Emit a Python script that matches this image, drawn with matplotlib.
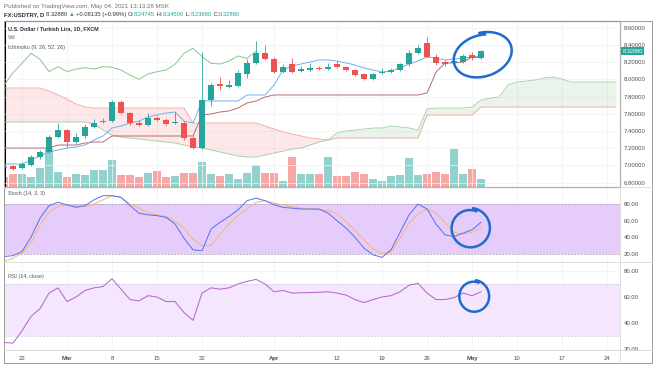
import matplotlib
matplotlib.use('Agg')
import matplotlib.pyplot as plt
import matplotlib.transforms as mtransforms
import numpy as np
import pandas as pd

plt.rcParams['font.family'] = ['Liberation Sans', 'DejaVu Sans']

W, H = 654, 366

# daily bars Feb 18 .. May 4 2021 (54 bars), calendar runs on into late May
dates = pd.bdate_range('2021-02-18', '2021-05-28')

opens = [6.982, 6.993, 6.970, 7.005, 7.098, 7.156, 7.330, 7.412, 7.272, 7.342,
         7.447, 7.505, 7.516, 7.737, 7.609, 7.493, 7.470, 7.551, 7.528, 7.493,
         7.493, 7.319, 7.202, 7.760, 7.943, 7.915, 7.927, 8.059, 8.194, 8.303,
         8.234, 8.090, 8.176, 8.101, 8.109, 8.136, 8.121, 8.176, 8.141, 8.109,
         8.059, 8.001, 8.071, 8.082, 8.109, 8.176, 8.303, 8.420, 8.264, 8.199,
         8.187, 8.206, 8.284, 8.24745]
highs = [6.995, 7.005, 7.040, 7.121, 7.180, 7.353, 7.493, 7.424, 7.377, 7.481,
         7.540, 7.551, 7.760, 7.760, 7.621, 7.528, 7.609, 7.575, 7.551, 7.621,
         7.516, 7.342, 8.319, 7.960, 8.028, 7.990, 8.109, 8.240, 8.450, 8.400,
         8.260, 8.180, 8.250, 8.150, 8.190, 8.160, 8.190, 8.215, 8.160, 8.125,
         8.075, 8.080, 8.130, 8.130, 8.190, 8.340, 8.400, 8.497, 8.290, 8.230,
         8.245, 8.300, 8.319, 8.34500]
lows = [6.962, 6.950, 6.958, 6.993, 7.080, 7.144, 7.319, 7.214, 7.260, 7.319,
        7.435, 7.493, 7.505, 7.598, 7.470, 7.458, 7.458, 7.516, 7.470, 7.481,
        7.295, 7.190, 7.190, 7.690, 7.877, 7.905, 7.915, 8.016, 8.180, 8.220,
        8.070, 8.070, 8.070, 8.090, 8.100, 8.105, 8.110, 8.130, 8.095, 8.035,
        7.990, 7.995, 8.060, 8.070, 8.100, 8.160, 8.290, 8.255, 8.170, 8.160,
        8.180, 8.190, 8.220, 8.23880]
closes = [6.972, 6.958, 7.016, 7.098, 7.156, 7.330, 7.412, 7.272, 7.330, 7.447,
          7.493, 7.516, 7.737, 7.609, 7.493, 7.470, 7.551, 7.528, 7.481, 7.505,
          7.319, 7.202, 7.760, 7.935, 7.920, 7.930, 8.078, 8.187, 8.303, 8.234,
          8.090, 8.148, 8.090, 8.120, 8.136, 8.121, 8.148, 8.141, 8.109, 8.051,
          8.001, 8.063, 8.090, 8.109, 8.176, 8.303, 8.362, 8.264, 8.187, 8.179,
          8.214, 8.272, 8.245, 8.32880]
volume = [10, 13, 13, 10, 19, 39, 15, 10, 13, 12,
          17, 17, 27, 12, 12, 10, 14, 16, 10, 11,
          14, 14, 25, 13, 11, 13, 8, 14, 22, 14,
          14, 6, 30, 13, 13, 13, 30, 11, 11, 15,
          13, 8, 6, 11, 12, 29, 12, 13, 15, 13,
          38, 13, 18, 8]

# ichimoku (9, 26, 52, 26)
tenkan = [7.016, 7.016, 7.016, 7.063, 7.109, 7.156, 7.179, 7.202, 7.214, 7.237,
          7.295, 7.342, 7.435, 7.458, 7.493, 7.516, 7.563, 7.586, 7.609, 7.621,
          7.516, 7.493, 7.749, 7.749, 7.749, 7.749, 7.749, 7.819, 7.819, 7.819,
          7.935, 8.109, 8.156, 8.179, 8.202, 8.226, 8.226, 8.214, 8.191, 8.167,
          8.133, 8.109, 8.086, 8.098, 8.133, 8.179, 8.214, 8.260, 8.249, 8.226,
          8.237, 8.249, 8.260, 8.272]
kijun = [7.202, 7.202, 7.202, 7.202, 7.202, 7.202, 7.237, 7.237, 7.237, 7.260,
         7.272, 7.272, 7.342, 7.342, 7.342, 7.342, 7.342, 7.342, 7.342, 7.342,
         7.342, 7.342, 7.586, 7.598, 7.621, 7.633, 7.667, 7.726, 7.749, 7.795,
         7.819, 7.819, 7.819, 7.819, 7.819, 7.819, 7.819, 7.819, 7.819, 7.819,
         7.819, 7.819, 7.819, 7.819, 7.819, 7.819, 7.819, 7.842, 8.086, 8.191,
         8.191, 8.202, 8.260, 8.249]
span_a = [7.505, 7.505, 7.505, 7.505, 7.505, 7.505, 7.505, 7.505, 7.505, 7.505,
          7.481, 7.412, 7.353, 7.330, 7.319, 7.307, 7.295, 7.284, 7.272, 7.260,
          7.237, 7.214, 7.202, 7.179, 7.156, 7.133, 7.109, 7.098, 7.098, 7.121,
          7.144, 7.167, 7.191, 7.202, 7.237, 7.272, 7.295, 7.377, 7.400, 7.412,
          7.423, 7.435, 7.435, 7.458, 7.447, 7.435, 7.412, 7.656, 7.667, 7.667,
          7.667, 7.667, 7.679, 7.760, 7.783, 7.795, 7.935, 7.970, 7.981, 7.993,
          8.016, 8.028, 8.005, 7.970, 7.970, 7.970, 7.970, 7.970, 7.970]
span_b = [7.900, 7.900, 7.900, 7.900, 7.900, 7.865, 7.819, 7.772, 7.714, 7.679,
          7.667, 7.667, 7.667, 7.667, 7.667, 7.667, 7.667, 7.667, 7.667, 7.667,
          7.667, 7.493, 7.493, 7.493, 7.493, 7.493, 7.493, 7.493, 7.493, 7.458,
          7.423, 7.388, 7.365, 7.342, 7.319, 7.307, 7.295, 7.319, 7.319, 7.319,
          7.319, 7.319, 7.319, 7.319, 7.319, 7.319, 7.319, 7.586, 7.586, 7.586,
          7.586, 7.586, 7.586, 7.679, 7.679, 7.679, 7.679, 7.679, 7.679, 7.679,
          7.679, 7.679, 7.679, 7.679, 7.679, 7.679, 7.679, 7.679, 7.679]

stoch_k = [17, 18, 23, 40, 63, 78, 82, 79, 76, 78,
           85, 90, 90, 88, 78, 69, 67, 66, 64, 56,
           39, 25, 24, 50, 58, 65, 73, 84, 87, 84,
           79, 76, 75, 74, 74, 74, 69, 60, 51, 40,
           27, 19, 16, 25, 46, 67, 80, 74, 56, 43,
           41, 45, 49, 58]
stoch_d = [11, 15, 21, 33, 55, 70, 77, 79, 78, 77,
           80, 85, 90, 88, 80, 75, 70, 67, 65, 59,
           51, 38, 30, 30, 44, 56, 66, 74, 82, 84,
           81, 79, 77, 75, 74, 73, 72, 68, 59, 48,
           37, 26, 21, 22, 39, 57, 68, 74, 69, 58,
           46, 44, 46, 51]
rsi = [25, 24.5, 34, 45, 51, 63, 67, 56.5, 60, 65,
       67, 68, 74, 66, 58, 57, 61, 60, 56.5, 56.5,
       48, 42, 63, 67, 66, 67, 70, 72, 73.5, 70,
       64, 65, 63, 63.2, 63.4, 63.6, 64, 63, 61.5, 58,
       55.7, 58, 60, 61, 64, 69, 70.5, 63, 58, 58,
       59.5, 63, 61, 64]

price_ticks = [6.8, 7.0, 7.2, 7.4, 7.6, 7.8, 8.0, 8.2, 8.4, 8.6]
osc_ticks = [20, 40, 60, 80]
tick_dates = ['2021-02-22', '2021-03-01', '2021-03-08', '2021-03-15', '2021-03-22',
              '2021-04-01', '2021-04-12', '2021-04-19', '2021-04-26', '2021-05-03',
              '2021-05-10', '2021-05-17', '2021-05-24']
tick_labels = ['22', 'Mar', '8', '15', '22', 'Apr', '12', '19', '26', 'May', '10', '17', '24']
months = ['Mar', 'Apr', 'May']

TEAL = '#26a69a'
RED = '#ef5350'
LABEL = '#4d4d4d'
DARK = '#2a2e39'
GRID = '#f1f2f5'
INK = '#1f6bd0'

fig = plt.figure(figsize=(W / 100, H / 100), dpi=100)


def pane(x0, y0, x1, y1):
    # pixel box (top-left origin) -> figure fraction
    return fig.add_axes([x0 / W, 1 - y1 / H, (x1 - x0) / W, (y1 - y0) / H])


ax = pane(5, 21, 620, 187)
axs = pane(5, 187, 620, 262)
axr = pane(5, 262, 620, 350)
axv = ax.twinx()
ax.set_zorder(axv.get_zorder() + 1)
ax.patch.set_visible(False)

pos = np.arange(len(closes))
o, hi, lo, c = map(np.array, (opens, highs, lows, closes))
up = c >= o

# volume
axv.bar(pos, volume, width=0.86, color=np.where(up, '#93d2cc', '#f6a8a6'), lw=0)
axv.set_ylim(0, max(volume) / 0.235)
axv.set_yticks([])

# cloud
sa, sb = np.array(span_a), np.array(span_b)
cx = np.arange(len(sa))
ax.fill_between(cx, sa, sb, where=sa >= sb, interpolate=True, color='#43a047', alpha=0.11, lw=0)
ax.fill_between(cx, sa, sb, where=sa < sb, interpolate=True, color='#ef5350', alpha=0.13, lw=0)
ax.plot(cx, sa, color='#9fd09f', lw=0.6)
ax.plot(cx, sb, color='#f3a3a3', lw=0.6)
ax.plot(pos, kijun, color='#b86a70', lw=0.7)
ax.plot(pos, tenkan, color='#6cb4f0', lw=0.7)
lag = len(closes) - 25
ax.plot(pos[:lag], c[25:], color='#8dc68d', lw=0.7)

# candles
col = np.where(up, TEAL, RED)
ax.vlines(pos, lo, hi, colors=col, lw=0.6, zorder=4)
ax.bar(pos, np.maximum(np.abs(c - o), 0.007), bottom=np.minimum(o, c), width=0.66,
       color=col, lw=0, zorder=5)

ax.set_ylim(6.749, 8.679)
ax.set_yticks(price_ticks)
ax.set_yticklabels(['%.5f' % v for v in price_ticks])

blend = mtransforms.blended_transform_factory(ax.transAxes, ax.transData)
ax.text(1.004, closes[-1], '%.5f' % closes[-1], transform=blend, fontsize=4.1,
        color='white', va='center', ha='left', zorder=20, clip_on=False,
        bbox=dict(boxstyle='square,pad=0.25', fc=TEAL, ec='none'))

ax.text(0.005, 0.952, 'U.S. Dollar / Turkish Lira, 1D, FXCM', transform=ax.transAxes,
        fontsize=3.9, color=DARK, fontweight='bold', va='center')
ax.text(0.005, 0.898, 'Vol', transform=ax.transAxes, fontsize=3.9, color='#555555', va='center')
ax.text(0.005, 0.843, 'Ichimoku (9, 26, 52, 26)', transform=ax.transAxes, fontsize=3.9,
        color='#555555', va='center')

# stochastic
axs.axhspan(20, 80, color='#e5ccfa', lw=0)
for lvl in (20, 80):
    axs.axhline(lvl, color='#9c97a6', lw=0.5, ls=(0, (2.5, 2)))
axs.plot(pos, stoch_d, color='#f4b767', lw=0.7)
axs.plot(pos, stoch_k, color='#5670ee', lw=0.7)
axs.set_ylim(10.4, 100.4)
axs.text(0.005, 0.92, 'Stoch (14, 3, 3)', transform=axs.transAxes, fontsize=3.9,
         color='#555555', va='center')

# rsi
axr.axhspan(30, 70, color='#f4e7fd', lw=0)
for lvl in (30, 70):
    axr.axhline(lvl, color='#c9c2d2', lw=0.5, ls=(0, (2.5, 2)))
axr.plot(pos, rsi, color='#b767c9', lw=0.75)
axr.set_ylim(19.2, 86.9)
axr.text(0.005, 0.84, 'RSI (14, close)', transform=axr.transAxes, fontsize=3.9,
         color='#555555', va='center')

tick_pos = [dates.get_loc(pd.Timestamp(d)) for d in tick_dates]
for a in (ax, axs, axr):
    a.set_xlim(0.11, 68.44)
    a.set_xticks(tick_pos)
    a.tick_params(axis='x', length=0, labelbottom=False)
    a.yaxis.tick_right()
    a.tick_params(axis='y', length=0, pad=2.5, labelsize=4.3, labelcolor=LABEL)
    a.grid(True, color=GRID, lw=0.5)
    a.set_axisbelow(True)
    for s in a.spines.values():
        s.set_visible(False)
for a in (axs, axr):
    a.set_yticks(osc_ticks)
    a.set_yticklabels(['%.2f' % v for v in osc_ticks])
axr.tick_params(axis='x', labelbottom=True, labelsize=4.3, labelcolor=LABEL, pad=4)
axr.set_xticklabels(tick_labels)
for t in axr.get_xticklabels():
    if t.get_text() in months:
        t.set_fontweight('bold')

# overlay in pixel space: frame, separators, header, pen marks
ov = fig.add_axes([0, 0, 1, 1], zorder=10)
ov.set_xlim(0, W)
ov.set_ylim(H, 0)
ov.axis('off')
ov.patch.set_visible(False)

ov.plot([4, 652, 652, 4, 4], [21, 21, 363, 363, 21], color='#9a9a9a', lw=0.7)
for yy in (187, 262, 350):
    ov.plot([4, 652], [yy, yy], color='#d9d9d9', lw=0.6)
ov.plot([620, 620], [21, 363], color='#d9d9d9', lw=0.6)

ov.text(4, 6.5, 'Published on TradingView.com, May 04, 2021 13:13:28 MSK',
        fontsize=4.4, color='#707070', va='center')
pieces = [('FX:USDTRY, D ', DARK, 'bold'),
          ('%.5f ' % closes[-1], DARK, 'normal'),
          ('\u25b2 ', TEAL, 'normal'),
          ('+0.08135 (+0.99%) ', DARK, 'normal'),
          ('O:', DARK, 'normal'), ('%.5f' % opens[-1], TEAL, 'normal'),
          (' H:', DARK, 'normal'), ('%.5f' % highs[-1], TEAL, 'normal'),
          (' L:', DARK, 'normal'), ('%.5f' % lows[-1], TEAL, 'normal'),
          (' C:', DARK, 'normal'), ('%.5f' % closes[-1], TEAL, 'normal')]
prev = ov.text(4, 14.5, pieces[0][0], fontsize=4.2, color=pieces[0][1],
               fontweight=pieces[0][2], va='center')
for s, cl, fw in pieces[1:]:
    prev = ov.annotate(s, xy=(1, 0.5), xycoords=prev, fontsize=4.2, color=cl,
                       fontweight=fw, va='center', ha='left')


def loop(src, x, y, rx, ry, tilt, start):
    cx0, cy0 = ov.transData.inverted().transform(src.transData.transform((x, y)))
    t = np.radians(np.linspace(start, start + 372, 160))
    grow = np.linspace(1.0, 1.12, t.size)
    ex, ey = rx * grow * np.cos(t), ry * grow * np.sin(t)
    a = np.radians(tilt)
    px = cx0 + ex * np.cos(a) - ey * np.sin(a)
    py = cy0 - (ex * np.sin(a) + ey * np.cos(a))
    ov.plot(px, py, color=INK, lw=1.8, solid_capstyle='round')


loop(ax, 53.1, 8.28, 28, 20, 18, 70)
loop(axs, 51.8, 51, 18, 18, 10, 60)
loop(axr, 52.2, 60.5, 14, 14.5, 10, 60)

fig.savefig('out.png', dpi=100, facecolor='white')
